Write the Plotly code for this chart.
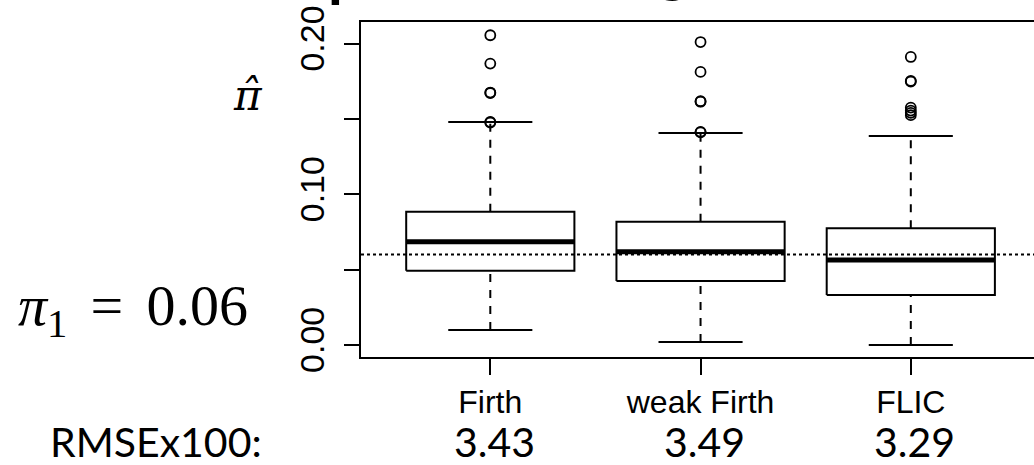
import plotly.graph_objects as go

# ---------------- data ----------------
categories = ["Firth", "weak Firth", "FLIC"]
positions = [1, 2, 3]
lower_whisker = [0.0099, 0.0020, 0.0000]
q1 = [0.0493, 0.0424, 0.0331]
median = [0.0685, 0.0619, 0.0563]
q3 = [0.0884, 0.0817, 0.0774]
upper_whisker = [0.1480, 0.1407, 0.1387]
outliers = [
    [0.2055, 0.1867, 0.1675, 0.1672, 0.1480, 0.1476],
    [0.2010, 0.1812, 0.1617, 0.1614, 0.1414, 0.1411],
    [0.1911, 0.1752, 0.1748, 0.1575, 0.1555, 0.1540, 0.1525],
]
rmse = ["3.43", "3.49", "3.29"]
true_pi = 0.06
y_tick_vals = [0.0, 0.05, 0.10, 0.15, 0.20]
y_tick_text = ["0.00", "", "0.10", "", "0.20"]

# ---------------- layout constants ----------------
W, H = 1034, 465
ML, MR, MT, MB = 361, 0, 22, 108
PW, PH = W - ML - MR, H - MT - MB
BOX_HALF = 0.4
CAP_HALF = 0.2
SANS = "Liberation Sans, Arial, sans-serif"
SERIF = "Liberation Serif, DejaVu Serif, serif"
CAL = "Lato, Open Sans, sans-serif"


def px(x):
    return (x - ML) / PW


def py(y):
    return (H - MB - y) / PH


fig = go.Figure()

for p, lw, a, m, b, uw, outs in zip(positions, lower_whisker, q1, median, q3,
                                     upper_whisker, outliers):
    line = dict(color="black", width=2)
    # whiskers (dashed)
    fig.add_trace(go.Scatter(x=[p, p], y=[b, uw], mode="lines",
                             line=dict(color="black", width=2, dash="8px,8px")))
    fig.add_trace(go.Scatter(x=[p, p], y=[lw, a], mode="lines",
                             line=dict(color="black", width=2, dash="8px,8px")))
    # caps
    fig.add_trace(go.Scatter(x=[p - CAP_HALF, p + CAP_HALF], y=[uw, uw],
                             mode="lines", line=line))
    fig.add_trace(go.Scatter(x=[p - CAP_HALF, p + CAP_HALF], y=[lw, lw],
                             mode="lines", line=line))
    # box
    fig.add_trace(go.Scatter(
        x=[p - BOX_HALF, p + BOX_HALF, p + BOX_HALF, p - BOX_HALF, p - BOX_HALF],
        y=[a, a, b, b, a], mode="lines", line=line,
        fill="toself", fillcolor="white"))
    # median
    fig.add_trace(go.Scatter(x=[p - BOX_HALF, p + BOX_HALF], y=[m, m],
                             mode="lines", line=dict(color="black", width=5)))
    # outliers
    fig.add_trace(go.Scatter(x=[p] * len(outs), y=outs, mode="markers",
                             marker=dict(symbol="circle-open", size=10,
                                         color="black",
                                         line=dict(color="black", width=1.8))))

# reference line at true value
fig.add_shape(type="line", xref="paper", x0=0, x1=1, yref="y",
              y0=true_pi, y1=true_pi, layer="above",
              line=dict(color="black", width=2, dash="dot"))

SP = "\u2009\u2009"
annotations = [
    dict(text="RMSEx100:", x=px(156), y=py(441), xref="paper", yref="paper",
         xanchor="center", yanchor="middle", showarrow=False,
         font=dict(family=CAL, size=41, color="black")),
    dict(text="<i>π</i><sub>1</sub>" + SP + "=" + SP + "0.06",
         x=px(16), y=py(309),
         xref="paper", yref="paper", xanchor="left", yanchor="middle",
         showarrow=False, font=dict(family=SERIF, size=58, color="black")),
    dict(text="<i>π\u0302</i>", x=px(248), y=py(96), xref="paper", yref="paper",
         xanchor="center", yanchor="middle", showarrow=False,
         font=dict(family="DejaVu Serif, serif", size=42, color="black")),
    # remnants of the cropped title above the chart
    dict(text="<b>p</b>", x=px(326), y=py(10), xref="paper", yref="paper",
         xanchor="left", yanchor="bottom", showarrow=False,
         font=dict(family=CAL, size=60, color="black")),
    dict(text="<b>g</b>", x=px(673), y=py(5), xref="paper", yref="paper",
         xanchor="center", yanchor="bottom", showarrow=False,
         font=dict(family=CAL, size=60, color="black")),
]
for p, r in zip(positions, rmse):
    annotations.append(dict(text=r, x=p, y=py(441), xref="x", yref="paper",
                            xanchor="center", yanchor="middle", xshift=4,
                            showarrow=False,
                            font=dict(family=CAL, size=41, color="black")))

fig.update_layout(
    width=W, height=H,
    margin=dict(l=ML, r=MR, t=MT, b=MB, pad=0),
    paper_bgcolor="white", plot_bgcolor="white",
    showlegend=False,
    annotations=annotations,
    xaxis=dict(range=[0.385, 3.586], showgrid=False, zeroline=False,
               showline=True, mirror=True, linecolor="black", linewidth=2,
               ticks="outside", ticklen=16, tickwidth=2, tickcolor="black",
               tickvals=positions, ticktext=categories,
               tickfont=dict(family=SANS, size=32, color="black")),
    yaxis=dict(range=[-0.0080, 0.2143], showgrid=False, zeroline=False,
               showline=True, linecolor="black", linewidth=2,
               ticks="outside", ticklen=15, tickwidth=2, tickcolor="black",
               tickvals=y_tick_vals, ticktext=y_tick_text, tickangle=-90,
               ticklabelstandoff=6,
               tickfont=dict(family=SANS, size=34, color="black")),
)

fig.write_html("out.html")
